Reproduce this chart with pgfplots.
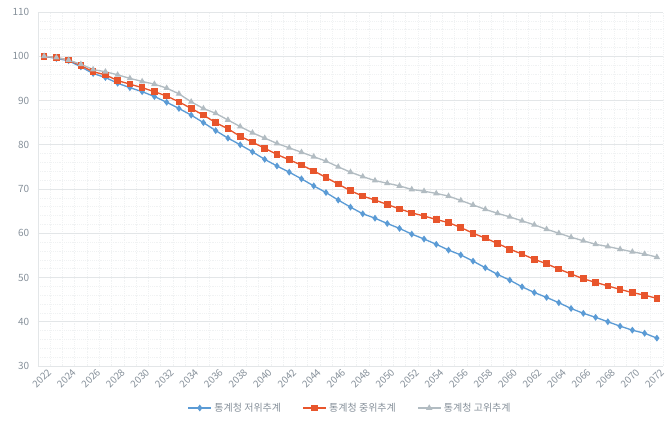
\documentclass[border=0pt]{standalone}
\usepackage{fontspec}
\setmainfont{Noto Sans CJK KR}
\usepackage{pgfplots}
\usepackage{pgfplotstable}
\pgfplotsset{compat=1.18}
\definecolor{cLow}{HTML}{5B9BD5}
\definecolor{cMid}{HTML}{E8552C}
\definecolor{cHigh}{HTML}{B2BCC2}
\definecolor{gridc}{HTML}{E3E6E8}
\definecolor{mgridc}{HTML}{F0F2F3}
\definecolor{tickc}{HTML}{86909A}
\pgfplotstableread{
i year low mid high
0 2022 100.0 100.0 100.0
1 2023 99.5 99.7 99.7
2 2024 99.0 99.15 99.15
3 2025 97.6 97.9 98.2
4 2026 96.1 96.5 97.0
5 2027 95.2 95.8 96.5
6 2028 93.9 94.5 95.8
7 2029 92.9 93.7 95.0
8 2030 92.0 92.9 94.3
9 2031 90.9 92.0 93.7
10 2032 89.6 91.0 92.8
11 2033 88.2 89.7 91.5
12 2034 86.7 88.2 89.7
13 2035 85.0 86.7 88.2
14 2036 83.2 85.0 87.1
15 2037 81.5 83.6 85.6
16 2038 80.0 81.9 84.1
17 2039 78.4 80.6 82.7
18 2040 76.7 79.2 81.5
19 2041 75.2 77.8 80.3
20 2042 73.8 76.6 79.3
21 2043 72.3 75.4 78.3
22 2044 70.7 74.1 77.3
23 2045 69.2 72.6 76.3
24 2046 67.5 71.1 75.0
25 2047 65.9 69.6 73.8
26 2048 64.4 68.4 72.8
27 2049 63.4 67.5 71.9
28 2050 62.2 66.5 71.3
29 2051 61.1 65.5 70.7
30 2052 59.8 64.6 69.9
31 2053 58.7 63.9 69.5
32 2054 57.5 63.1 69.0
33 2055 56.2 62.4 68.4
34 2056 55.1 61.3 67.4
35 2057 53.7 60.0 66.4
36 2058 52.2 58.9 65.4
37 2059 50.7 57.7 64.5
38 2060 49.4 56.4 63.7
39 2061 47.9 55.3 62.8
40 2062 46.6 54.1 61.9
41 2063 45.5 53.1 60.9
42 2064 44.3 51.9 60.0
43 2065 43.0 50.8 59.1
44 2066 41.9 49.7 58.3
45 2067 41.0 48.9 57.5
46 2068 40.0 48.1 57.0
47 2069 39.0 47.3 56.4
48 2070 38.1 46.6 55.8
49 2071 37.4 46.0 55.3
50 2072 36.3 45.3 54.6
}\datatable
\begin{document}
\begin{tikzpicture}
\begin{axis}[
  at={(0,0)}, anchor=south west,
  scale only axis,
  width=468.75pt, height=265.5pt,
  xmin=-0.5, xmax=50.5,
  ymin=30, ymax=110,
  ytick={30,40,...,110},
  xtick={0,2,...,50},
  xticklabels={2022,2024,2026,2028,2030,2032,2034,2036,2038,2040,2042,2044,2046,2048,2050,2052,2054,2056,2058,2060,2062,2064,2066,2068,2070,2072},
  minor xtick={-0.5,0.5,...,50.5},
  minor ytick={30,32,...,110},
  /pgf/number format/assume math mode=true,
  ymajorgrids, xminorgrids, yminorgrids,
  major grid style={gridc, line width=0.6pt},
  minor grid style={mgridc, line width=0.4pt, densely dotted},
  axis x line*=bottom, axis y line*=left,
  axis line style={gridc, line width=0.6pt, -},
  tick style={draw=none},
  xticklabel style={rotate=45, anchor=north east, font=\fontsize{7.3}{8}\selectfont, text=tickc, inner sep=0.5pt, xshift=1pt, yshift=-2pt},
  yticklabel style={font=\fontsize{7.5}{9}\selectfont, text=tickc, xshift=-3pt},
  legend style={at={(0.5,-0.1186)}, anchor=center, draw=none, fill=none,
    font=\fontsize{7.5}{9}\selectfont, text=tickc,
    legend columns=3, /tikz/every even column/.append style={column sep=14pt}},
  legend cell align=left,
]
\addplot[cLow, line width=1pt, mark=diamond*, mark size=1.8pt, mark options={solid, fill=cLow}] table[x=i, y=low] {\datatable};
\addlegendentry{통계청 저위추계}
\addplot[cMid, line width=1pt, mark=square*, mark size=2pt, mark options={solid, fill=cMid}] table[x=i, y=mid] {\datatable};
\addlegendentry{통계청 중위추계}
\addplot[cHigh, line width=1pt, mark=triangle*, mark size=1.8pt, mark options={solid, fill=cHigh}] table[x=i, y=high] {\datatable};
\addlegendentry{통계청 고위추계}
\end{axis}
\pgfresetboundingbox
\path (-28.5pt,-49.5pt) rectangle (470.25pt,274.5pt);
\end{tikzpicture}
\end{document}
